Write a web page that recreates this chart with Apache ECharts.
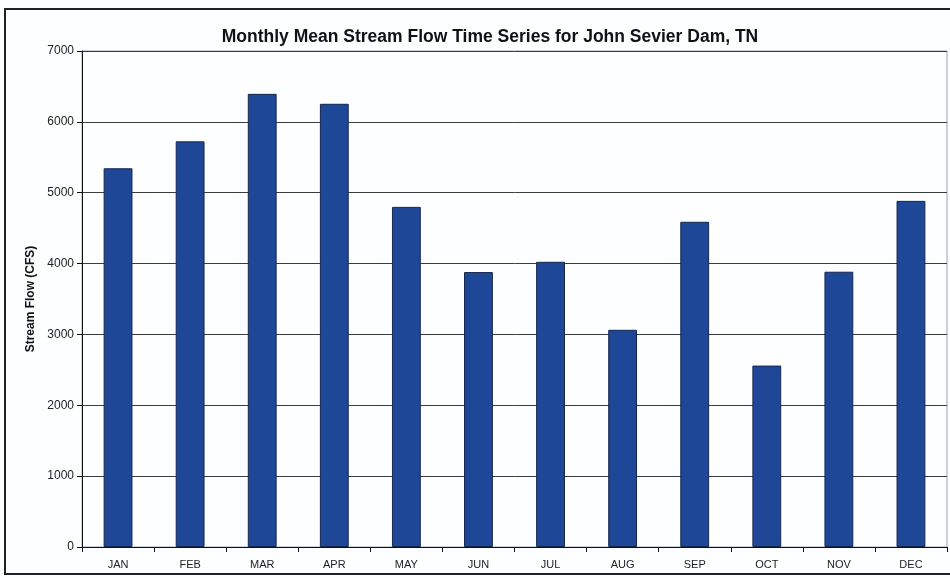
<!DOCTYPE html>
<html>
<head>
<meta charset="utf-8">
<script src="https://cdn.jsdelivr.net/npm/echarts@6/dist/echarts.min.js"></script>
<style>
  html, body { margin: 0; padding: 0; background: #ffffff; }
  #chart { width: 950px; height: 578px; }
</style>
</head>
<body>
<div id="chart"></div>
<script>
// monthly mean flow (CFS)
const months = ['JAN', 'FEB', 'MAR', 'APR', 'MAY', 'JUN', 'JUL', 'AUG', 'SEP', 'OCT', 'NOV', 'DEC']
const flow = [5345, 5725, 6395, 6255, 4800, 3880, 4025, 3065, 4590, 2560, 3885, 4885]
const yTicks = [0, 1000, 2000, 3000, 4000, 5000, 6000, 7000]

const chart = echarts.init(document.getElementById('chart'))

const option = {
  backgroundColor: '#fdfeff',
  animation: false,
  title: {
    text: 'Monthly Mean Stream Flow Time Series for John Sevier Dam, TN',
    left: 485,
    top: 23,
    textAlign: 'center',
    textStyle: {
      fontFamily: 'Liberation Sans, Arial, sans-serif',
      fontSize: 17.5,
      fontWeight: 'bold',
      color: '#111'
    }
  },
  grid: {
    left: 82,
    right: 3,
    top: 51,
    bottom: 31,
    show: true,
    borderColor: '#9aa3b8',
    borderWidth: 1,
    backgroundColor: 'transparent'
  },
  xAxis: {
    type: 'category',
    data: months,
    axisLine: { lineStyle: { color: '#111', width: 1 } },
    axisTick: { show: true, length: 5, lineStyle: { color: '#111' } },
    axisLabel: {
      fontFamily: 'Liberation Sans, Arial, sans-serif',
      fontSize: 11,
      color: '#222',
      margin: 12
    }
  },
  yAxis: {
    type: 'value',
    min: yTicks[0],
    max: yTicks[yTicks.length - 1],
    interval: 1000,
    name: 'Stream Flow (CFS)',
    nameLocation: 'middle',
    nameGap: 38,
    nameTextStyle: {
      fontFamily: 'Liberation Sans, Arial, sans-serif',
      fontSize: 12,
      fontWeight: 'bold',
      color: '#111'
    },
    axisLine: { show: true, lineStyle: { color: '#111', width: 1 } },
    axisTick: { show: true, length: 5, lineStyle: { color: '#111' } },
    axisLabel: {
      fontFamily: 'Liberation Sans, Arial, sans-serif',
      fontSize: 12,
      color: '#222',
      margin: 8,
      formatter: v => String(v)
    },
    splitLine: { lineStyle: { color: '#3a3d40', width: 1 } }
  },
  series: [{
    type: 'bar',
    data: flow,
    barWidth: '40%',
    itemStyle: {
      color: '#1f4797',
      borderColor: '#14264d',
      borderWidth: 1
    }
  }],
  graphic: [{
    type: 'rect',
    shape: { x: 5, y: 9, width: 960, height: 565 },
    style: { fill: 'none', stroke: '#222', lineWidth: 2 },
    silent: true
  }]
}

chart.setOption(option)
</script>
</body>
</html>
